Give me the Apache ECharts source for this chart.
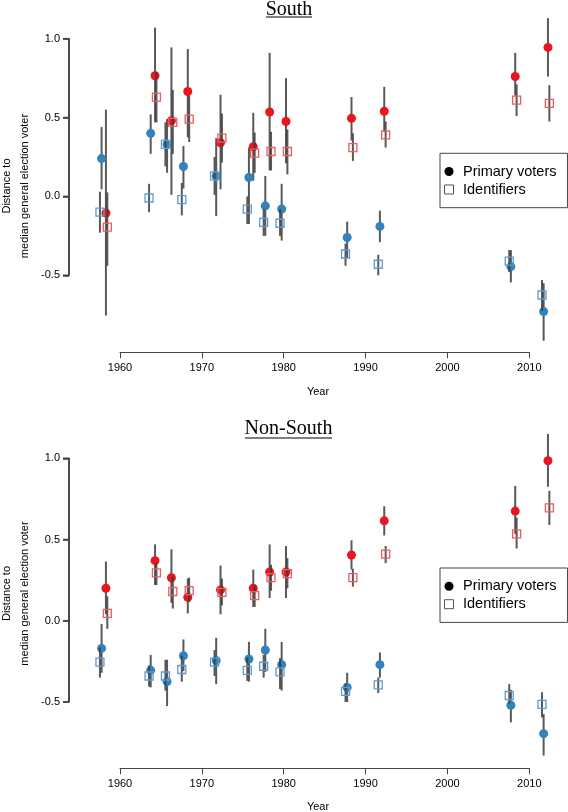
<!DOCTYPE html>
<html><head><meta charset="utf-8">
<script src="https://cdn.jsdelivr.net/npm/echarts@6/dist/echarts.min.js"></script>
<style>html,body{margin:0;padding:0;background:#fff}#c{width:568px;height:812px}</style>
</head><body><div id="c"></div>
<script>
// ---- data ----
const years = [1958, 1964, 1966, 1968, 1972, 1976, 1978, 1980, 1988, 1992, 2008, 2012];
const xTicks = [1960, 1970, 1980, 1990, 2000, 2010];
const yTicks = [-0.5, 0.0, 0.5, 1.0];
const panelTitles = ['South', 'Non-South'];
const legendLabels = ['Primary voters', 'Identifiers'];
const yTitle = 'Distance to\nmedian general election voter';
const xTitle = 'Year';
const yAxisAt = 1953.77; // left edge of the plotting region (where the y axis sits)

// [estimate, lower, upper]
const southDemPrimary = [[0.24,0.045,0.44],[0.40,0.27,0.52],[0.33,0.15,0.49],[0.19,0.05,0.32],[0.13,-0.125,0.37],[0.12,-0.175,0.31],[-0.06,-0.25,0.13],[-0.08,-0.28,0.08],[-0.26,-0.39,-0.16],[-0.19,-0.29,-0.09],[-0.445,-0.545,-0.34],[-0.73,-0.915,-0.55]];
const southDemIdent   = [[-0.10,-0.23,0.03],[-0.01,-0.10,0.08],[0.33,0.19,0.47],[-0.02,-0.12,0.085],[0.13,0.01,0.25],[-0.08,-0.175,0.0],[-0.165,-0.25,-0.08],[-0.17,-0.25,-0.08],[-0.365,-0.44,-0.30],[-0.43,-0.50,-0.37],[-0.41,-0.48,-0.34],[-0.625,-0.725,-0.53]];
const southRepPrimary = [[-0.105,-0.755,0.55],[0.765,0.47,1.07],[0.48,0.01,0.945],[0.665,0.375,0.935],[0.34,0.045,0.645],[0.315,0.10,0.53],[0.535,0.165,0.91],[0.475,0.21,0.75],[0.495,0.355,0.63],[0.54,0.41,0.695],[0.76,0.64,0.91],[0.945,0.76,1.13]];
const southRepIdent   = [[-0.195,-0.44,0.025],[0.63,0.47,0.79],[0.47,0.27,0.675],[0.49,0.345,0.64],[0.37,0.215,0.525],[0.275,0.15,0.405],[0.285,0.165,0.41],[0.285,0.14,0.425],[0.31,0.225,0.40],[0.39,0.31,0.475],[0.61,0.51,0.71],[0.59,0.475,0.705]];

const nonSouthDemPrimary = [[-0.17,-0.32,-0.02],[-0.305,-0.41,-0.21],[-0.375,-0.525,-0.24],[-0.215,-0.31,-0.115],[-0.245,-0.39,-0.105],[-0.235,-0.375,-0.13],[-0.18,-0.315,-0.05],[-0.27,-0.43,-0.13],[-0.41,-0.50,-0.32],[-0.27,-0.35,-0.195],[-0.52,-0.625,-0.425],[-0.695,-0.83,-0.575]];
const nonSouthDemIdent   = [[-0.255,-0.35,-0.165],[-0.34,-0.405,-0.275],[-0.34,-0.43,-0.24],[-0.30,-0.375,-0.215],[-0.255,-0.34,-0.18],[-0.305,-0.37,-0.225],[-0.28,-0.35,-0.21],[-0.315,-0.42,-0.23],[-0.435,-0.50,-0.385],[-0.395,-0.445,-0.35],[-0.46,-0.51,-0.39],[-0.515,-0.595,-0.44]];
const nonSouthRepPrimary = [[0.20,0.04,0.365],[0.37,0.22,0.47],[0.265,0.11,0.44],[0.145,0.045,0.26],[0.19,0.04,0.34],[0.20,0.085,0.315],[0.30,0.14,0.47],[0.30,0.14,0.46],[0.405,0.315,0.495],[0.615,0.525,0.705],[0.675,0.535,0.83],[0.985,0.825,1.15]];
const nonSouthRepIdent   = [[0.045,-0.05,0.15],[0.295,0.22,0.355],[0.18,0.075,0.27],[0.185,0.115,0.265],[0.175,0.095,0.26],[0.155,0.085,0.22],[0.265,0.185,0.345],[0.29,0.20,0.385],[0.265,0.21,0.32],[0.41,0.355,0.46],[0.535,0.445,0.635],[0.695,0.59,0.80]];

// ---- styles ----
const FONT = '"Liberation Sans", Arial, sans-serif';
const SERIF = '"Liberation Serif", "Times New Roman", serif';
const RED = '#e8161d', RED_SQ = '#f0595e', BLUE = '#3182bd', BLUE_SQ = '#5d9bd3';
const BAR = 'rgba(60,60,60,0.85)';
const AXIS = '#444';

const panels = [
  { groups: [
      {d: southDemPrimary, dx: -0.25, kind: 'p', color: BLUE},
      {d: southRepPrimary, dx: 0.28, kind: 'p', color: RED},
      {d: southDemIdent, dx: -0.45, kind: 'i', color: BLUE_SQ},
      {d: southRepIdent, dx: 0.45, kind: 'i', color: RED_SQ}],
    grid: {left: 120, top: 38.7, width: 409.3, height: 236.6}, xOff: 77,
    titleY: 9.5, ulY: 17, ulX: [266, 312], titleX: 289, yTitleY: 186, xTitleY: 392, legendTop: 153.3 },
  { groups: [
      {d: nonSouthDemPrimary, dx: -0.25, kind: 'p', color: BLUE},
      {d: nonSouthRepPrimary, dx: 0.28, kind: 'p', color: RED},
      {d: nonSouthDemIdent, dx: -0.45, kind: 'i', color: BLUE_SQ},
      {d: nonSouthRepIdent, dx: 0.45, kind: 'i', color: RED_SQ}],
    grid: {left: 120, top: 458.3, width: 409.3, height: 243.7}, xOff: 66.3,
    titleY: 429, ulY: 438, ulX: [245, 332], titleX: 288.5, yTitleY: 593.5, xTitleY: 807, legendTop: 568 }
];

const grids = [], xAxes = [], yAxes = [], series = [], graphics = [], legends = [];
const np = panels.length;

panels.forEach((p, pi) => {
  const ai = np + pi; // axis-only grid holding the detached (R-style) y axis labels
  grids[pi] = Object.assign({}, p.grid);
  grids[ai] = {left: 69, top: p.grid.top, width: 20, height: p.grid.height};

  xAxes[pi] = {
    type: 'value', gridIndex: pi, position: 'bottom', min: xTicks[0], max: xTicks[xTicks.length - 1],
    interval: xTicks[1] - xTicks[0], offset: p.xOff,
    axisLine: {show: true, onZero: false, lineStyle: {color: AXIS, width: 1}},
    axisTick: {show: true, length: 6, lineStyle: {color: AXIS, width: 1}},
    axisLabel: {fontSize: 11, fontFamily: FONT, color: '#000', margin: 10, formatter: v => String(v)},
    splitLine: {show: false}
  };
  yAxes[pi] = {
    type: 'value', gridIndex: pi, show: false, min: yTicks[0], max: yTicks[yTicks.length - 1],
    interval: yTicks[1] - yTicks[0], splitLine: {show: false}
  };
  xAxes[ai] = {type: 'value', gridIndex: ai, show: false, min: 0, max: 1, splitLine: {show: false}};
  yAxes[ai] = {
    type: 'value', gridIndex: ai, position: 'left', min: yTicks[0], max: yTicks[yTicks.length - 1],
    interval: yTicks[1] - yTicks[0],
    axisLine: {show: true, onZero: false, lineStyle: {color: AXIS, width: 1.6}},
    axisTick: {show: true, length: 6, lineStyle: {color: AXIS, width: 1.6}},
    axisLabel: {fontSize: 11, fontFamily: FONT, color: '#000', margin: 9, formatter: v => v.toFixed(1)},
    splitLine: {show: false}
  };
  // y axis line and outward ticks, also drawn in the data grid through its scales
  series.push({
    type: 'custom', xAxisIndex: pi, yAxisIndex: pi, clip: false, z: 10,
    data: [[yAxisAt, yTicks[0], yTicks[yTicks.length - 1]]],
    renderItem: (params, api) => {
      const a = api.coord([api.value(0), api.value(1)]), b = api.coord([api.value(0), api.value(2)]);
      return {type: 'line', shape: {x1: a[0], y1: a[1], x2: b[0], y2: b[1]}, style: {stroke: AXIS, lineWidth: 1.6}};
    }
  });
  series.push({
    type: 'custom', xAxisIndex: pi, yAxisIndex: pi, clip: false, z: 10,
    data: yTicks.map(v => [yAxisAt, v]),
    renderItem: (params, api) => {
      const a = api.coord([api.value(0), api.value(1)]);
      return {type: 'line', shape: {x1: a[0] - 6, y1: a[1], x2: a[0], y2: a[1]}, style: {stroke: AXIS, lineWidth: 1.6}};
    }
  });

  p.groups.forEach(g => {
    const zBase = g.kind === 'p' ? 2 : 4;
    series.push({
      type: 'custom', xAxisIndex: pi, yAxisIndex: pi, clip: false, z: zBase, silent: true,
      data: years.map((y, i) => [y + g.dx, g.d[i][1], g.d[i][2]]),
      encode: {x: 0, y: [1, 2]},
      renderItem: (params, api) => {
        const x = api.value(0);
        const a = api.coord([x, api.value(1)]);
        const b = api.coord([x, api.value(2)]);
        return {type: 'line', shape: {x1: a[0], y1: a[1], x2: b[0], y2: b[1]},
                style: {stroke: BAR, lineWidth: 2}};
      }
    });
    series.push({
      type: 'scatter', name: g.kind === 'p' ? legendLabels[0] : legendLabels[1],
      xAxisIndex: pi, yAxisIndex: pi, clip: false, z: zBase + 1, silent: true,
      symbol: g.kind === 'p' ? 'circle' : 'rect',
      symbolSize: g.kind === 'p' ? 9 : 8,
      itemStyle: g.kind === 'p' ? {color: g.color, opacity: 1}
                                : {color: 'rgba(255,255,255,0)', borderColor: g.color, borderWidth: 1.3, opacity: 1},
      data: years.map((y, i) => [y + g.dx, g.d[i][0]])
    });
  });
  graphics.push({type: 'text', x: p.titleX, y: p.titleY,
    style: {text: panelTitles[pi], font: '20px ' + SERIF, fill: '#000', align: 'center', verticalAlign: 'middle'}});
  graphics.push({type: 'line', shape: {x1: p.ulX[0], y1: p.ulY, x2: p.ulX[1], y2: p.ulY},
    style: {stroke: '#000', lineWidth: 1}});
  graphics.push({type: 'text', x: 15.75, y: p.yTitleY, rotation: Math.PI / 2,
    style: {text: yTitle, font: '11px ' + FONT, fill: '#000', align: 'center', verticalAlign: 'middle', lineHeight: 17.5}});
  graphics.push({type: 'text', x: 318, y: p.xTitleY,
    style: {text: xTitle, font: '11px ' + FONT, fill: '#000', align: 'center', verticalAlign: 'middle'}});
  legends.push({
    left: 440, top: p.legendTop, orient: 'vertical', selectedMode: false,
    padding: [10.7, 11, 10.7, 4], itemWidth: 18, itemHeight: 9, itemGap: 3,
    borderColor: '#444', borderWidth: 1, backgroundColor: '#fff', borderRadius: 0,
    textStyle: {fontSize: 14.5, fontFamily: FONT, color: '#000'},
    data: [
      {name: legendLabels[0], icon: 'circle', itemStyle: {color: '#000', borderWidth: 0}},
      {name: legendLabels[1], icon: 'path://M0,0H10V10H0Z', itemStyle: {color: 'rgba(255,255,255,0)', borderColor: '#555', borderWidth: 1}}
    ]
  });
});

const chart = echarts.init(document.getElementById('c'), null, {renderer: 'canvas'});
chart.setOption({
  animation: false,
  grid: grids, xAxis: xAxes, yAxis: yAxes, series: series,
  legend: legends, graphic: graphics
});
</script></body></html>
